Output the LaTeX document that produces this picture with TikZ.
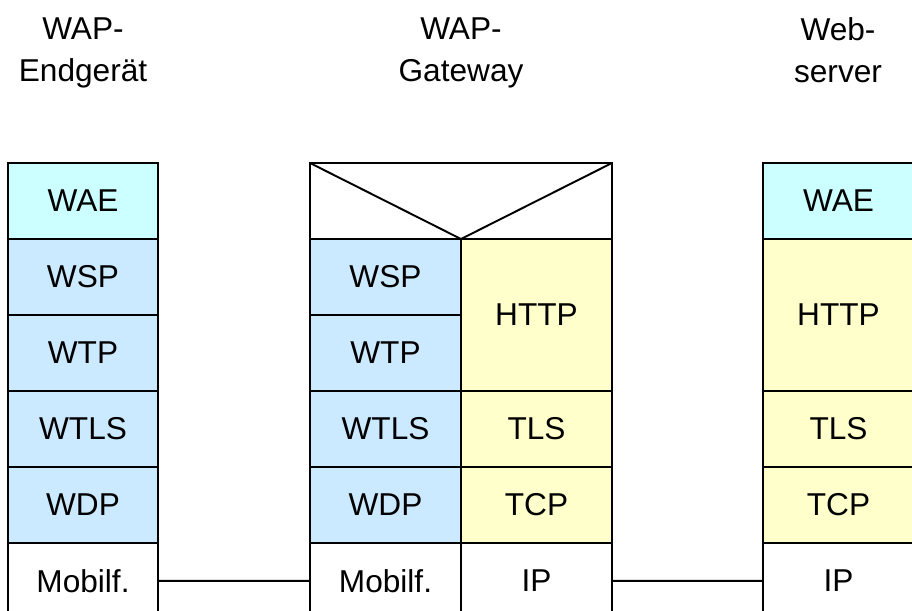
\documentclass[tikz,border=0pt]{standalone}
\usepackage{fontspec}
\setmainfont{Liberation Sans}
\usetikzlibrary{positioning}

\definecolor{appcol}{RGB}{204,255,255}
\definecolor{wapcol}{RGB}{204,234,255}
\definecolor{webcol}{RGB}{255,255,204}

\begin{document}
\begin{tikzpicture}[
    x=0.02cm, y=-0.02cm,
    node distance=0pt,
    layer/.style={rectangle, draw, line width=1.1pt, outer sep=0pt, inner sep=0pt, minimum width=3cm, minimum height=1.52cm, font=\fontsize{18}{24}\selectfont},
    app/.style={layer, fill=appcol},
    wap/.style={layer, fill=wapcol},
    web/.style={layer, fill=webcol},
    plain/.style={layer, fill=white},
    title/.style={align=center, anchor=north, inner sep=0pt, font=\fontsize{18}{24}\selectfont},
    link/.style={line width=1.1pt}
]

\useasboundingbox (0,0) rectangle (912,610);
\clip (0,0) rectangle (912,610);

% Titles
\node[title] (tEnd) at (83,17) {WAP-\\Endgerät};
\node[title] (tGate) at (461,17) {WAP-\\Gateway};
\node[title] (tWeb) at (838,17) {Web-\\server};

% WAP-Endgeraet
\node[app] (eWAE) at (83,201) {WAE};
\node[wap, below=of eWAE] (eWSP) {WSP};
\node[wap, below=of eWSP] (eWTP) {WTP};
\node[wap, below=of eWTP] (eWTLS) {WTLS};
\node[wap, below=of eWTLS] (eWDP) {WDP};
\node[plain, below=of eWDP] (eMob) {Mobilf.};

% WAP-Gateway
\node[plain, minimum width=6.04cm] (gTop) at (461,201) {};
\draw[link] (gTop.north west) -- (gTop.south) -- (gTop.north east);
\node[wap, minimum width=3.02cm] (gWSP) at (385.5,277) {WSP};
\node[wap, minimum width=3.02cm, below=of gWSP] (gWTP) {WTP};
\node[wap, minimum width=3.02cm, below=of gWTP] (gWTLS) {WTLS};
\node[wap, minimum width=3.02cm, below=of gWTLS] (gWDP) {WDP};
\node[plain, minimum width=3.02cm, below=of gWDP] (gMob) {Mobilf.};
\node[web, minimum width=3.02cm, minimum height=3.04cm] (gHTTP) at (536.5,315) {HTTP};
\node[web, minimum width=3.02cm, below=of gHTTP] (gTLS) {TLS};
\node[web, minimum width=3.02cm, below=of gTLS] (gTCP) {TCP};
\node[plain, minimum width=3.02cm, below=of gTCP] (gIP) {IP};

% Webserver
\node[app, minimum width=3.02cm] (sWAE) at (838.5,201) {WAE};
\node[web, minimum width=3.02cm, minimum height=3.04cm, below=of sWAE] (sHTTP) {HTTP};
\node[web, minimum width=3.02cm, below=of sHTTP] (sTLS) {TLS};
\node[web, minimum width=3.02cm, below=of sTLS] (sTCP) {TCP};
\node[plain, minimum width=3.02cm, below=of sTCP] (sIP) {IP};

% Links
\draw[link] (eMob.east) -- (gMob.west);
\draw[link] (gIP.east) -- (sIP.west);

\end{tikzpicture}
\end{document}
